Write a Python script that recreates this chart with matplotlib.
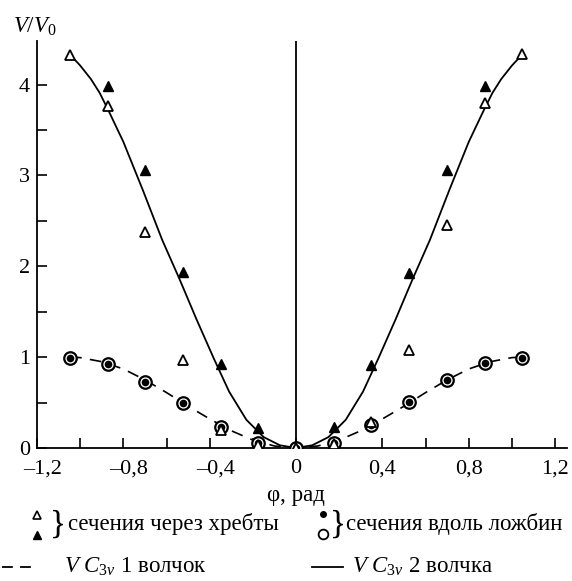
import numpy as np
import matplotlib
matplotlib.use("Agg")
import matplotlib.pyplot as plt
import matplotlib.transforms as mtransforms
from matplotlib.ticker import FixedLocator, FixedFormatter

plt.rcParams["font.family"] = ["Liberation Serif", "DejaVu Serif"]
plt.rcParams["mathtext.fontset"] = "custom"
plt.rcParams["mathtext.rm"] = "Liberation Serif"
plt.rcParams["mathtext.it"] = "Liberation Serif:italic"

# angle of the cross-section, rad
phi = [-1.047, -0.873, -0.698, -0.524, -0.349, -0.175, 0.0,
       0.175, 0.349, 0.524, 0.698, 0.873, 1.047]
# sections through ridges, open triangles
ridge_open = [4.33, 3.77, 2.38, 0.97, 0.20, 0.03, 0.0,
              0.04, 0.29, 1.08, 2.45, 3.80, 4.34]
# sections through ridges, filled triangles
phi_fill = [-0.873, -0.698, -0.524, -0.349, -0.175,
            0.175, 0.349, 0.524, 0.698, 0.873]
ridge_fill = [3.98, 3.06, 1.94, 0.93, 0.22,
              0.23, 0.91, 1.93, 3.06, 3.98]
# sections along troughs (open circle + dot coincide)
trough = [0.99, 0.93, 0.73, 0.49, 0.23, 0.06, 0.0,
          0.06, 0.25, 0.51, 0.75, 0.94, 0.99]

# model curve, one top (dashed)
x_one = [-1.047, -1.0, -0.9, -0.8, -0.7, -0.6, -0.5, -0.4, -0.3, -0.2, -0.1, 0.0,
         0.1, 0.2, 0.3, 0.4, 0.5, 0.6, 0.7, 0.8, 0.9, 1.0, 1.047]
v_one = [1.0, 0.995, 0.95, 0.87, 0.75, 0.61, 0.46, 0.32, 0.19, 0.087, 0.022, 0.0,
         0.022, 0.087, 0.19, 0.32, 0.46, 0.61, 0.75, 0.87, 0.95, 0.995, 1.0]
# model curve, two tops (solid)
x_two = [-1.047, -1.0, -0.95, -0.91, -0.87, -0.80, -0.71, -0.62, -0.54, -0.46,
         -0.38, -0.31, -0.23, -0.15, -0.075, 0.0, 0.075, 0.15, 0.23, 0.31, 0.38,
         0.46, 0.54, 0.62, 0.71, 0.80, 0.87, 0.91, 0.95, 1.0, 1.047]
v_two = [4.33, 4.21, 4.06, 3.91, 3.72, 3.37, 2.84, 2.29, 1.86, 1.41,
         0.98, 0.62, 0.31, 0.12, 0.03, 0.0, 0.03, 0.12, 0.31, 0.62, 0.98,
         1.41, 1.86, 2.29, 2.84, 3.37, 3.72, 3.91, 4.06, 4.21, 4.33]

xticks_major = [-1.2, -0.8, -0.4, 0.0, 0.4, 0.8, 1.2]
xtick_labels = ["–1,2", "–0,8", "–0,4", "0", "0,4", "0,8", "1,2"]
xticks_minor = [-1.0, -0.6, -0.2, 0.2, 0.6, 1.0]

W, H = 572, 581
fig = plt.figure(figsize=(W / 100, H / 100), dpi=100)
ax = fig.add_axes([37 / W, 1 - 448 / H, (567 - 37) / W, (448 - 41) / H])

ax.plot(x_one, v_one, color="black", lw=1.2, dashes=(7, 5), zorder=2)
ax.plot(x_two, v_two, color="black", lw=1.3, zorder=2)
ax.axvline(0, color="black", lw=1.3, zorder=1)

ax.plot(phi, trough, "o", ms=9, mfc="white", mec="black", mew=1.6, ls="none", zorder=3)
ax.plot(phi, trough, "o", ms=4.5, color="black", ls="none", zorder=4)
ax.plot(phi, ridge_open, "^", ms=7, mfc="white", mec="black", mew=1.3, ls="none", zorder=5)
ax.plot(phi_fill, ridge_fill, "^", ms=7.5, color="black", ls="none", zorder=5)

ax.set_xlim(-1.2, 1.255)
ax.set_ylim(0, 4.48)
ax.xaxis.set_major_locator(FixedLocator(xticks_major))
ax.xaxis.set_major_formatter(FixedFormatter(xtick_labels))
ax.xaxis.set_minor_locator(FixedLocator(xticks_minor))
ax.set_yticks([0, 1, 2, 3, 4])
ax.set_yticklabels(["0", "1", "2", "3", "4"])
ax.yaxis.set_minor_locator(FixedLocator([0.5, 1.5, 2.5, 3.5]))
ax.tick_params(which="both", direction="in", length=7, width=1.2)
ax.tick_params(axis="x", labelsize=16, pad=8)
ax.tick_params(axis="y", labelsize=16, pad=5)
for s in ["top", "right"]:
    ax.spines[s].set_visible(False)
for s in ["left", "bottom"]:
    ax.spines[s].set_linewidth(1.3)

# negative labels are centred on the digits, the dash hangs to the left
shift = mtransforms.ScaledTranslation(0.055, 0, fig.dpi_scale_trans)
for lab in ax.get_xticklabels():
    if lab.get_text().startswith("–"):
        lab.set_transform(lab.get_transform() + shift)

fig.text(13 / W, 1 - 27 / H, r"$V/V_0$", fontsize=16.5, va="center", ha="left")
fig.text(296 / W, 1 - 495 / H, "φ, рад", fontsize=16.5, va="center", ha="center")

# legend drawn on a full-figure overlay in pixel units
lg = fig.add_axes([0, 0, 1, 1])
lg.set_xlim(0, W)
lg.set_ylim(H, 0)
lg.axis("off")

lg.plot([37], [515], "^", ms=5.5, mfc="white", mec="black", mew=1.2)
lg.plot([37], [535], "^", ms=6, color="black")
lg.text(50, 524, "}", fontsize=24, va="center", ha="left")
lg.text(68, 524, "сечения через хребты", fontsize=16.5, va="center", ha="left")

lg.plot([323], [514], "o", ms=4, color="black")
lg.plot([323], [534], "o", ms=7, mfc="white", mec="black", mew=1.3)
lg.text(330, 524, "}", fontsize=24, va="center", ha="left")
lg.text(346, 524, "сечения вдоль ложбин", fontsize=16.5, va="center", ha="left")

lg.plot([2, 33], [567, 567], color="black", lw=1.3, dashes=(6, 4))
lg.text(64, 567, r"$V\ C_{3v}$ 1 волчок", fontsize=16.5, va="center", ha="left")
lg.plot([312, 343], [567, 567], color="black", lw=1.3)
lg.text(352, 567, r"$V\ C_{3v}$ 2 волчка", fontsize=16.5, va="center", ha="left")

fig.savefig("out.png", dpi=100)
